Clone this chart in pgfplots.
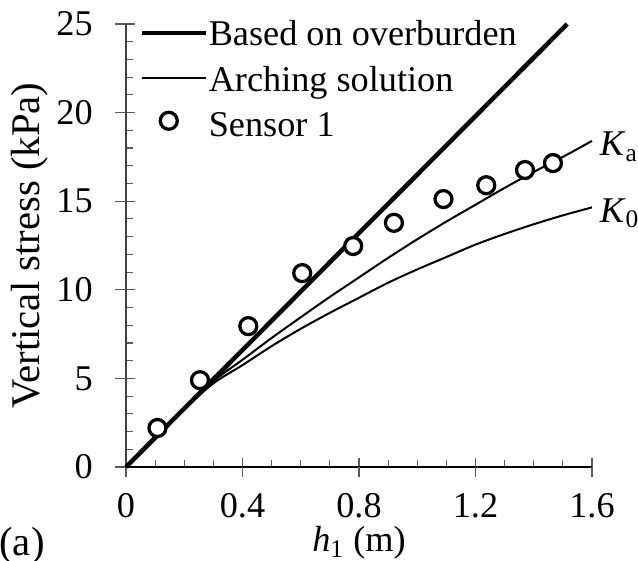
\documentclass[border=0pt]{standalone}
\usepackage{fontspec}
\setmainfont{Liberation Serif}
\usepackage{pgfplots}
\pgfplotsset{compat=1.18}

\newcommand{\fs}{\fontsize{14.5}{17.4}\selectfont}
\newcommand{\fl}{\fontsize{16.3}{19.6}\selectfont}
\newcommand{\rs}{\rule[-0.3em]{0pt}{1.27em}}

\pgfplotsset{
    linelegend/.style={legend image code/.code={\draw[##1] (0pt,-1.2pt) -- (25.6pt,-1.2pt);}},
    marklegend/.style={legend image code/.code={\draw[mark repeat=2,mark phase=2,##1]
        plot coordinates {(0pt,0pt) (10.8pt,0pt) (25.6pt,0pt)};}},
}

\begin{document}
\begin{tikzpicture}
\begin{axis}[
    at={(0,0)}, anchor=south west,
    scale only axis,
    width=186.4pt, height=177.2pt,
    xmin=0, xmax=1.6, ymin=0, ymax=25,
    axis lines=left,
    axis line style={-, line width=0.45pt},
    x axis line style={black},
    y axis line style={black!75},
    xtick={0,0.4,0.8,1.2,1.6},
    ytick={0,5,10,15,20,25},
    minor x tick num=3,
    minor y tick num=4,
    tick align=inside,
    major tick length=3.6pt,
    minor tick length=2.8pt,
    tick style={color=black!65, line width=0.45pt},
    extra x ticks={0,0.4,0.8,1.2,1.6},
    extra x tick labels={},
    extra y ticks={0,5,10,15,20,25},
    extra y tick labels={},
    extra tick style={tick align=outside, major tick length=4.2pt},
    /pgf/number format/assume math mode=true,
    tick label style={font=\fs},
    xticklabel style={yshift=-7.2pt},
    yticklabel style={xshift=-9.8pt},
    xlabel={\textit{h}\textsubscript{1} (m)},
    xlabel style={font=\fs, at={(axis description cs:0.5,-0.172)}, anchor=center},
    ylabel={Vertical stress (kPa)},
    ylabel style={font=\fl, at={(axis description cs:-0.206,0.5)}, anchor=center},
    clip=false,
    legend cell align=left,
    legend style={font=\fs, draw=none, fill=none, inner sep=0pt,
        at={(rel axis cs:0.028,1)}, yshift=5.6pt, anchor=north west,
        column sep=0.3pt, /tikz/row sep=2.6pt,
        nodes={inner sep=0pt}},
]
\addplot[black, line width=1.8pt, linelegend]
    coordinates {(0,0) (1.515,25)};
\addlegendentry{\rs Based on overburden}

\addplot[black, line width=0.8pt, smooth, linelegend]
    coordinates {(0,0) (0.1,1.65) (0.2,3.28) (0.3,4.85) (0.4,6.05) (0.5,7.28)
    (0.6,8.45) (0.7,9.6) (0.8,10.7) (0.9,11.8) (1.0,12.85) (1.1,13.85)
    (1.2,14.8) (1.3,15.75) (1.4,16.65) (1.5,17.5) (1.6,18.4)};
\addlegendentry{\rs Arching solution}

\addplot[black, line width=0.8pt, smooth, forget plot]
    coordinates {(0,0) (0.1,1.65) (0.2,3.26) (0.3,4.72) (0.4,5.75) (0.5,6.82)
    (0.6,7.8) (0.7,8.7) (0.8,9.55) (0.9,10.4) (1.0,11.15) (1.1,11.85)
    (1.2,12.55) (1.3,13.15) (1.4,13.7) (1.5,14.2) (1.6,14.65)};

\addplot[only marks, mark=*, mark size=3.4pt,
    mark options={fill=white, draw=black, line width=1.3pt}, marklegend]
    coordinates {(0.108,2.2) (0.254,4.9) (0.42,7.95) (0.605,10.94)
    (0.78,12.47) (0.92,13.78) (1.09,15.12) (1.237,15.9) (1.37,16.76)
    (1.466,17.15)};
\addlegendentry{\rs Sensor 1}

\node[anchor=west, inner sep=1pt, font=\fs, xshift=2pt, yshift=-2.4pt] at (axis cs:1.6,18.4) {\textit{K}\textsubscript{a}};
\node[anchor=west, inner sep=1pt, font=\fs, xshift=2pt, yshift=-2.4pt] at (axis cs:1.6,14.65) {\textit{K}\textsubscript{0}};
\end{axis}
\node[font=\fl] at (-41.6pt,-31.3pt) {(a)};
\pgfresetboundingbox
\useasboundingbox (-50.4pt,-37.3pt) rectangle (204.8pt,186.8pt);
\end{tikzpicture}
\end{document}
